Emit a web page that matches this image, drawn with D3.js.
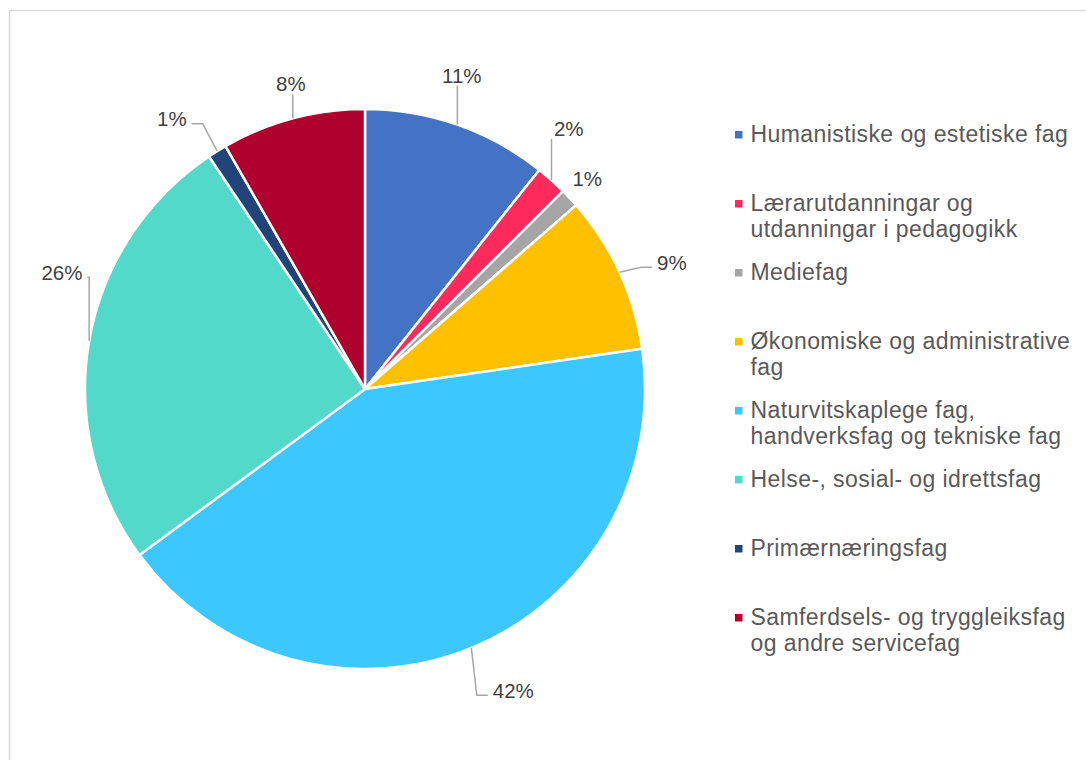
<!DOCTYPE html>
<html>
<head>
<meta charset="utf-8">
<script src="https://cdn.jsdelivr.net/npm/d3@7"></script>
<style>
  html, body { margin: 0; padding: 0; background: #fff; }
  svg { display: block; font-family: "Liberation Sans", Arial, sans-serif; }
</style>
</head>
<body>
<svg id="chart" width="1086" height="760"></svg>
<script>
// ---- data ----
const categories = [
  "Humanistiske og estetiske fag",
  "Lærarutdanningar og utdanningar i pedagogikk",
  "Mediefag",
  "Økonomiske og administrative fag",
  "Naturvitskaplege fag, handverksfag og tekniske fag",
  "Helse-, sosial- og idrettsfag",
  "Primærnæringsfag",
  "Samferdsels- og tryggleiksfag og andre servicefag"
];
const legendLines = [
  ["Humanistiske og estetiske fag"],
  ["Lærarutdanningar og", "utdanningar i pedagogikk"],
  ["Mediefag"],
  ["Økonomiske og administrative", "fag"],
  ["Naturvitskaplege fag,", "handverksfag og tekniske fag"],
  ["Helse-, sosial- og idrettsfag"],
  ["Primærnæringsfag"],
  ["Samferdsels- og tryggleiksfag", "og andre servicefag"]
];
const shares = [10.7, 1.8, 1.1, 9.1, 42.2, 25.7, 1.1, 8.3];
const valueLabels = ["11%", "2%", "1%", "9%", "42%", "26%", "1%", "8%"];
const colors = ["#4472C4", "#FF2A5C", "#A5A5A5", "#FFC000", "#3CC8FF", "#52D9C9", "#23447A", "#B0002E"];

// ---- layout config (label nudges relative to the default anchor) ----
const labelNudge = [[-12, -2], [-16, -14], [-19, 15], [7, 11], [23, -4], [22, -60], [-19, 10], [11, 14]];

const svg = d3.select("#chart");
const cx = 365, cy = 389, R = 280;
const labelR = 330;
const labelFont = 20.5;

// chart border
svg.append("rect")
  .attr("x", 9.5).attr("y", 10.5)
  .attr("width", 1090).attr("height", 780)
  .attr("fill", "none").attr("stroke", "#d9d9d9").attr("stroke-width", 1.5);

const pie = d3.pie().sort(null).value(d => d);
const arcs = pie(shares);
const arc = d3.arc().innerRadius(0).outerRadius(R);

const g = svg.append("g").attr("transform", `translate(${cx},${cy})`);

g.selectAll("path.slice")
  .data(arcs)
  .join("path")
  .attr("class", "slice")
  .attr("d", arc)
  .attr("fill", (d, i) => colors[i])
  .attr("stroke", "#fff")
  .attr("stroke-width", 2.5)
  .attr("stroke-linejoin", "round");

// labels + leader lines
const labelG = svg.append("g");
arcs.forEach((d, i) => {
  const mid = (d.startAngle + d.endAngle) / 2;
  const px = cx + R * Math.sin(mid), py = cy - R * Math.cos(mid);
  const lx = cx + labelR * Math.sin(mid) + labelNudge[i][0];
  const ly = cy - labelR * Math.cos(mid) + labelNudge[i][1];

  const t = labelG.append("text")
    .attr("x", lx).attr("y", ly + labelFont * 0.358)
    .attr("text-anchor", "middle")
    .attr("font-size", labelFont)
    .attr("fill", "#404040")
    .text(valueLabels[i]);
  const w = t.node().getComputedTextLength();
  const left = lx - w / 2 - 5, right = lx + w / 2 + 5;
  const top = ly - 14, bottom = ly + 10;

  let pts;
  if (px >= left && px <= right) {
    const ay = py > ly ? bottom : top;
    pts = [[px, py], [px, ay]];
  } else if (px < left) {
    const ay = ly + 5;
    const ex = left - Math.min(11, left - px);
    pts = [[px, py], [ex, ay], [left, ay]];
  } else {
    const ay = ly + 5;
    const ex = right + Math.min(11, px - right);
    pts = [[px, py], [ex, ay], [right, ay]];
  }
  let len = 0;
  for (let k = 1; k < pts.length; k++) len += Math.hypot(pts[k][0] - pts[k-1][0], pts[k][1] - pts[k-1][1]);
  if (len > 14) {
    labelG.append("path")
      .attr("d", d3.line()(pts))
      .attr("fill", "none")
      .attr("stroke", "#a6a6a6")
      .attr("stroke-width", 1.5);
  }
});

// legend
const legendFont = 23;
const legendY = d3.scalePoint().domain(d3.range(categories.length)).range([141.7, 141.7 + 69 * 7]);
const leg = svg.append("g");
categories.forEach((c, i) => {
  const by = legendY(i);
  leg.append("rect")
    .attr("x", 735).attr("y", by - 10.7)
    .attr("width", 7.5).attr("height", 7.5)
    .attr("fill", colors[i]);
  const t = leg.append("text")
    .attr("x", 750.5).attr("y", by)
    .attr("font-size", legendFont)
    .attr("letter-spacing", 0.42)
    .attr("fill", "#595959");
  legendLines[i].forEach((line, j) => {
    t.append("tspan").attr("x", 750.5).attr("y", by + j * 26.7).text(line);
  });
});
</script>
</body>
</html>
